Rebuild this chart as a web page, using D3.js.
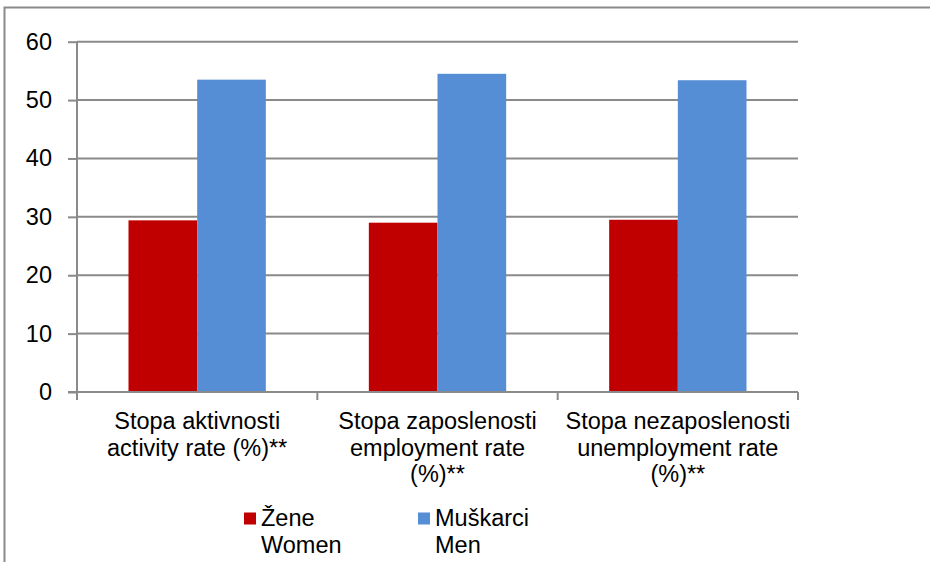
<!DOCTYPE html>
<html>
<head>
<meta charset="utf-8">
<script src="https://cdn.jsdelivr.net/npm/d3@7"></script>
<style>
  html, body { margin: 0; padding: 0; background: #ffffff; }
  svg { display: block; }
  text { font-family: "Liberation Sans", Arial, sans-serif; fill: #000; }
</style>
</head>
<body>
<svg id="chart" width="930" height="562"></svg>
<script>
// ---- data ----
const categories = ["activity", "employment", "unemployment"];
const categoryLabels = [
  ["Stopa aktivnosti", "activity rate (%)**"],
  ["Stopa zaposlenosti", "employment rate", "(%)**"],
  ["Stopa nezaposlenosti", "unemployment rate", "(%)**"]
];
const seriesNames = ["women", "men"];
const seriesLabels = [["Žene", "Women"], ["Muškarci", "Men"]];
const seriesColors = ["#C00000", "#558ED5"];
const womenValues = [29.4, 29.0, 29.5];
const menValues = [53.5, 54.5, 53.4];
const yTicks = [0, 10, 20, 30, 40, 50, 60];

// ---- layout ----
const svg = d3.select("#chart");
const plotLeft = 77, plotRight = 798, plotTop = 41.7, plotBottom = 392;
const gridColor = "#8a8a8a";
const fontSize = 23.5;

// outer frame
svg.append("rect")
  .attr("x", 4.5).attr("y", 7.5)
  .attr("width", 960).attr("height", 600)
  .attr("fill", "none").attr("stroke", gridColor).attr("stroke-width", 2);

const y = d3.scaleLinear().domain([0, 60]).range([plotBottom, plotTop]);
const x0 = d3.scaleBand().domain(categories).range([plotLeft, plotRight]).padding(0);
const x1 = d3.scaleBand().domain(seriesNames).range([0, x0.bandwidth()])
  .paddingInner(0).paddingOuter(0.75);

// gridlines + y ticks
const yAxis = d3.axisLeft(y).tickValues(yTicks).tickSize(9).tickPadding(16).tickFormat(d3.format("d"));
const gy = svg.append("g").attr("transform", `translate(${plotLeft},0)`).call(yAxis);
gy.select(".domain").remove();
gy.selectAll(".tick line").attr("stroke", gridColor).attr("stroke-width", 2);
gy.selectAll(".tick text")
  .style("font-size", fontSize + "px")
  .style("font-family", "'Liberation Sans', Arial, sans-serif")
  .attr("fill", "#000");

svg.append("g").selectAll("line.grid")
  .data(yTicks.filter(d => d !== 0))
  .join("line")
  .attr("x1", plotLeft).attr("x2", plotRight)
  .attr("y1", d => y(d)).attr("y2", d => y(d))
  .attr("stroke", gridColor).attr("stroke-width", 2);

// bars
const data = categories.map((c, i) => ({ cat: c, vals: [
  { s: "women", v: womenValues[i] },
  { s: "men", v: menValues[i] }
]}));
const colorScale = d3.scaleOrdinal().domain(seriesNames).range(seriesColors);

svg.append("g").selectAll("g")
  .data(data).join("g")
  .attr("transform", d => `translate(${x0(d.cat)},0)`)
  .selectAll("rect")
  .data(d => d.vals).join("rect")
  .attr("x", d => x1(d.s))
  .attr("width", x1.bandwidth())
  .attr("y", d => y(d.v))
  .attr("height", d => y(0) - y(d.v))
  .attr("fill", d => colorScale(d.s));

// y axis line
svg.append("line")
  .attr("x1", plotLeft).attr("x2", plotLeft)
  .attr("y1", plotTop).attr("y2", plotBottom + 8)
  .attr("stroke", gridColor).attr("stroke-width", 2);

// x axis line and ticks
svg.append("line")
  .attr("x1", plotLeft - 9).attr("x2", plotRight)
  .attr("y1", plotBottom).attr("y2", plotBottom)
  .attr("stroke", gridColor).attr("stroke-width", 2);
const xTickPos = categories.map(c => x0(c)).concat([x0(categories[categories.length - 1]) + x0.bandwidth()]);
svg.append("g").selectAll("line")
  .data(xTickPos).join("line")
  .attr("x1", d => d).attr("x2", d => d)
  .attr("y1", plotBottom).attr("y2", plotBottom + 8)
  .attr("stroke", gridColor).attr("stroke-width", 2);

// category labels
const lab = svg.append("g").selectAll("text")
  .data(categories).join("text")
  .attr("text-anchor", "middle")
  .style("font-size", fontSize + "px");
lab.each(function(c, i) {
  const cx = x0(c) + x0.bandwidth() / 2;
  d3.select(this).selectAll("tspan")
    .data(categoryLabels[i]).join("tspan")
    .attr("x", cx)
    .attr("y", (d, j) => 429 + j * 26.5)
    .text(d => d);
});

// legend
const legendX = [244, 418];
const lg = svg.append("g").selectAll("g")
  .data(seriesNames).join("g")
  .attr("transform", (d, i) => `translate(${legendX[i]},0)`);
lg.append("rect")
  .attr("x", 0).attr("y", 512.5)
  .attr("width", 12).attr("height", 12)
  .attr("fill", d => colorScale(d));
lg.append("text")
  .style("font-size", fontSize + "px")
  .each(function(d, i) {
    d3.select(this).selectAll("tspan")
      .data(seriesLabels[i]).join("tspan")
      .attr("x", 17)
      .attr("y", (t, j) => 526 + j * 27)
      .text(t => t);
  });
</script>
</body>
</html>
